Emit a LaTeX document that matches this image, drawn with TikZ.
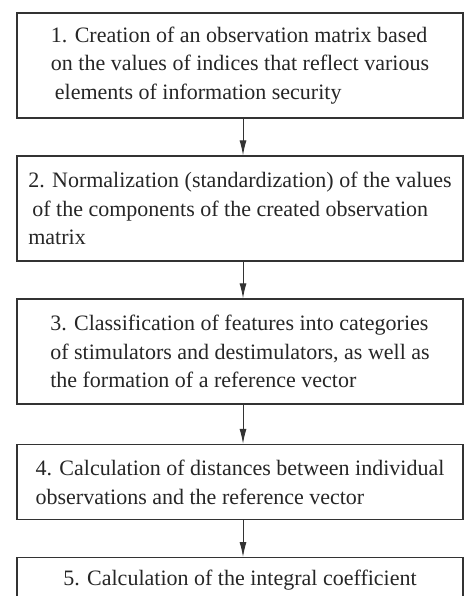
\documentclass[tikz,border=0pt]{standalone}
\usepackage{fontspec}
\setmainfont{Liberation Serif}
\usetikzlibrary{arrows.meta}
\definecolor{ink}{HTML}{262626}
\definecolor{frame}{HTML}{333333}
\tikzset{
  stepbox/.style={draw=frame, line width=1.3pt, rectangle, minimum width=446pt,
    inner sep=0pt, align=left, text=ink, font=\fontsize{22}{28.8}\selectfont},
  flow/.style={draw=frame, line width=1pt, -{Latex[length=15pt,width=7pt]}}
}
\begin{document}
\begin{tikzpicture}[x=1pt,y=-1pt]
  \useasboundingbox (0,0) rectangle (464,596);
  \clip (0,0) rectangle (464,596);
  \fill[white] (0,0) rectangle (464,596);

  \node[stepbox, minimum height=105pt] (b1) at (240,65.5)
    {1. Creation of an observation matrix based\\
     on the values of indices that reflect various\\
     \hspace*{4pt}elements of information security};
  \node[stepbox, minimum height=105pt] (b2) at (240,208.5)
    {2. Normalization (standardization) of the values\\
     \hspace*{4pt}of the components of the created observation\\
     matrix};
  \node[stepbox, minimum height=105pt] (b3) at (240,351.5)
    {3. Classification of features into categories\\
     of stimulators and destimulators, as well as\\
     the formation of a reference vector};
  \node[stepbox, minimum height=75pt] (b4) at (240,482)
    {4. Calculation of distances between individual\\
     observations and the reference vector};
  \node[stepbox, minimum height=45pt, anchor=north] (b5) at (240,557)
    {5. Calculation of the integral coefficient};

  \draw[flow] ([xshift=3pt]b1.south) -- ([xshift=3pt]b2.north);
  \draw[flow] ([xshift=3pt]b2.south) -- ([xshift=3pt]b3.north);
  \draw[flow] ([xshift=3pt]b3.south) -- ([xshift=3pt]b4.north);
  \draw[flow] ([xshift=3pt]b4.south) -- ([xshift=3pt]b5.north);
\end{tikzpicture}
\end{document}
